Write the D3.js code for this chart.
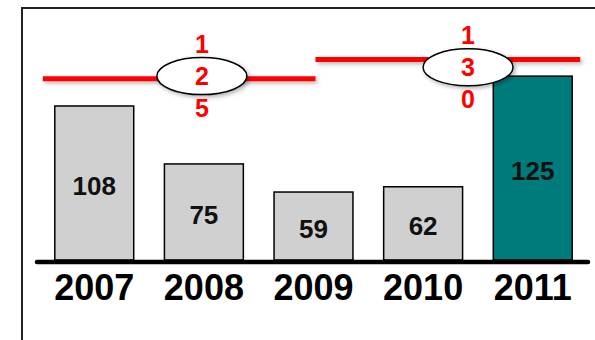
<!DOCTYPE html>
<html>
<head>
<meta charset="utf-8">
<script src="https://cdn.jsdelivr.net/npm/d3@7"></script>
<style>
  body { margin: 0; background: #fff; }
  svg { display: block; font-family: "Liberation Sans", Arial, sans-serif; }
</style>
</head>
<body>
<script>
//chart data
var years = ["2007", "2008", "2009", "2010", "2011"];
var values = [108, 75, 59, 62, 125];
var highlightYear = "2011";

//reference levels: label shown in the oval and line level
var refLabels = ["125", "130"];
var refLabelValues = [125, 130];
var refLineValues = [123.5, 134.5];
var refFrom = ["2007", "2009"];
var refTo = ["2009", "2011"];

window.onload = drawChart();

function drawChart(){
    var width = 595,
        height = 340;

    var svg = d3.select("body")
        .append("svg")
        .attr("width", width)
        .attr("height", height);

    //soft shadow used on the ovals and red lines (user space so flat lines keep it)
    var defs = svg.append("defs");
    var shadow = defs.append("filter")
        .attr("id", "shadow")
        .attr("filterUnits", "userSpaceOnUse")
        .attr("x", -width).attr("y", -height)
        .attr("width", width * 2).attr("height", height * 2);
    shadow.append("feDropShadow")
        .attr("dx", 2).attr("dy", 2)
        .attr("stdDeviation", 2)
        .attr("flood-color", "#000")
        .attr("flood-opacity", 0.3);

    //frame (left and top edge visible)
    svg.append("path")
        .attr("d", "M22,340 V8 H595")
        .attr("fill", "none")
        .attr("stroke", "#222")
        .attr("stroke-width", 2);

    var x = d3.scaleBand()
        .domain(years)
        .range([40, 587])
        .paddingInner(0.28)
        .paddingOuter(0.135);

    var y = d3.scaleLinear()
        .domain([20.3, 145])
        .range([260, 41]);

    var bw = x.bandwidth();

    //bars
    svg.selectAll(".bar")
        .data(years)
        .enter()
        .append("rect")
        .attr("class", "bar")
        .attr("x", function(d){ return x(d); })
        .attr("y", function(d, i){ return y(values[i]); })
        .attr("width", bw)
        .attr("height", function(d, i){ return y(20.3) - y(values[i]); })
        .attr("fill", function(d){ return d == highlightYear ? "#007b7b" : "#d0d0d0"; })
        .attr("stroke", "#000")
        .attr("stroke-width", 1.5);

    //value labels inside bars
    svg.selectAll(".val")
        .data(years)
        .enter()
        .append("text")
        .attr("class", "val")
        .attr("x", function(d){ return x(d) + bw / 2; })
        .attr("y", function(d, i){ return (y(values[i]) + y(20.3)) / 2 + 12; })
        .attr("text-anchor", "middle")
        .attr("font-size", 26)
        .attr("font-weight", "bold")
        .attr("fill", "#111")
        .text(function(d, i){ return values[i]; });

    //baseline
    svg.append("line")
        .attr("x1", 37).attr("x2", 588)
        .attr("y1", y(20.3) + 2).attr("y2", y(20.3) + 2)
        .attr("stroke", "#000")
        .attr("stroke-width", 4.5)
        .attr("stroke-linecap", "round");

    //year labels
    var xAxis = svg.append("g")
        .attr("transform", "translate(0," + (y(20.3) + 2) + ")")
        .call(d3.axisBottom(x).tickSize(0).tickPadding(12));
    xAxis.select(".domain").remove();
    xAxis.selectAll("text")
        .attr("font-family", "Liberation Sans, Arial, sans-serif")
        .attr("font-size", 36)
        .attr("font-weight", "bold")
        .attr("fill", "#000");

    //reference lines
    var step = x.step();
    var lineStart = [x(refFrom[0]) - 12, x(refFrom[1]) + bw / 2 + 2];
    var lineEnd = [x(refTo[0]) + bw / 2 + 2, x(refTo[1]) + bw + 8];
    var ovalX = [x("2008") + bw / 2 - 2, x("2010") + bw / 2 + 0.41 * step];

    svg.selectAll(".ref")
        .data(refLineValues)
        .enter()
        .append("line")
        .attr("class", "ref")
        .attr("x1", function(d, i){ return lineStart[i]; })
        .attr("x2", function(d, i){ return lineEnd[i]; })
        .attr("y1", function(d){ return y(d); })
        .attr("y2", function(d){ return y(d); })
        .attr("stroke", "#ff0000")
        .attr("stroke-width", 5)
        .attr("filter", "url(#shadow)");

    //ovals with the vertical digits
    var ovals = svg.selectAll(".oval")
        .data(refLabelValues)
        .enter()
        .append("g")
        .attr("class", "oval")
        .attr("transform", function(d, i){ return "translate(" + ovalX[i] + "," + y(d) + ")"; });

    ovals.append("ellipse")
        .attr("rx", 45)
        .attr("ry", 18.5)
        .attr("fill", "#fff")
        .attr("stroke", "#000")
        .attr("stroke-width", 1.5)
        .attr("filter", "url(#shadow)");

    ovals.each(function(d, i){
        var digits = refLabels[i].split("");
        d3.select(this).selectAll("text")
            .data(digits)
            .enter()
            .append("text")
            .attr("x", 0)
            .attr("y", function(c, k){ return (k - 1) * 32 + 9; })
            .attr("text-anchor", "middle")
            .attr("font-size", 25)
            .attr("font-weight", "bold")
            .attr("fill", "#ff0000")
            .text(function(c){ return c; });
    });
}
</script>
</body>
</html>
